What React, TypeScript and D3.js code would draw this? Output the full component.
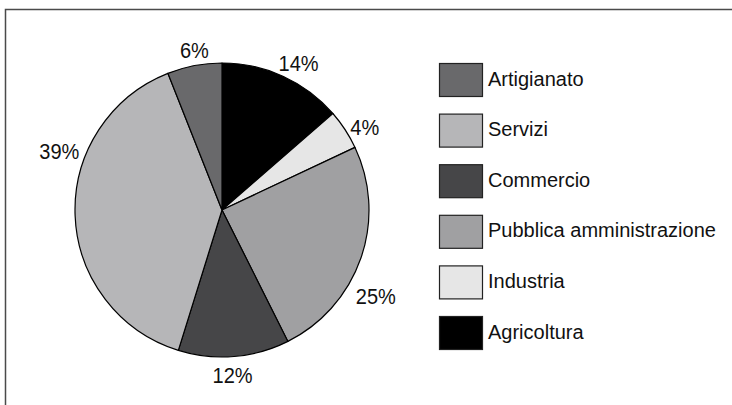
import React from "react";
import * as d3 from "d3";

// Pie order (clockwise from 12 o'clock)
const categories = ["Agricoltura", "Industria", "Pubblica amministrazione", "Commercio", "Servizi", "Artigianato"];
const shares = [13.6, 4.4, 24.6, 12.2, 39.2, 6.0];
const colors = ["#000000", "#e6e6e6", "#a0a0a2", "#464648", "#b6b6b8", "#69696b"];
// Legend order (top to bottom)
const legendOrder = ["Artigianato", "Servizi", "Commercio", "Pubblica amministrazione", "Industria", "Agricoltura"];

// label layout tweaks (degrees shift from slice middle, distance from centre)
const labelShiftDeg = [3, 3, 10, 1, 22, 1];
const labelDist = [166, 165, 176, 165, 173, 162];

const W = 732;
const H = 405;
const cx = 222;
const cy = 210;
const R = 147;
const FONT = "'Liberation Sans', Arial, Helvetica, sans-serif";

export default function App() {
  const data = categories.map((c, i) => ({ c, v: shares[i], color: colors[i], i }));
  const pie = d3.pie<any>().value((d) => d.v).sort(null).startAngle(0).endAngle(2 * Math.PI);
  const arcs = pie(data);
  const arc = d3.arc<any>().innerRadius(0).outerRadius(R);
  const colorOf = d3.scaleOrdinal<string, string>().domain(categories).range(colors);
  const legendY = d3.scaleBand<string>().domain(legendOrder).range([63, 63 + 6 * 50.6]).paddingInner(0);

  return (
    <svg
      width={W}
      height={H}
      style={{ position: "absolute", left: 0, top: 0, background: "#fff" }}
      fontFamily={FONT}
    >
      <rect x={5.5} y={9.5} width={W + 20} height={H + 20} fill="#fff" stroke="#4a4a4a" strokeWidth={1.5} />
      <g transform={`translate(${cx},${cy})`}>
        {arcs.map((a, k) => (
          <path key={k} d={arc(a) as string} fill={a.data.color} stroke="#000" strokeWidth={1.2} strokeLinejoin="round" />
        ))}
        {arcs.map((a, k) => {
          const mid = (a.startAngle + a.endAngle) / 2 + (labelShiftDeg[k] * Math.PI) / 180;
          const d = labelDist[k];
          const x = Math.sin(mid) * d;
          const y = -Math.cos(mid) * d;
          return (
            <text
              key={"t" + k}
              transform={`translate(${x},${y + 8}) scale(0.91,1)`}
              textAnchor="middle"
              fontSize={22}
              fill="#111"
            >
              {Math.round(a.data.v) + "%"}
            </text>
          );
        })}
      </g>
      {legendOrder.map((c) => {
        const y = legendY(c) as number;
        return (
          <g key={c}>
            <rect x={439.5} y={y + 0.5} width={43} height={33} fill={colorOf(c)} stroke="#222" strokeWidth={1.2} />
            <text x={488} y={y + 22.5} fontSize={20} fill="#111">
              {c}
            </text>
          </g>
        );
      })}
    </svg>
  );
}
